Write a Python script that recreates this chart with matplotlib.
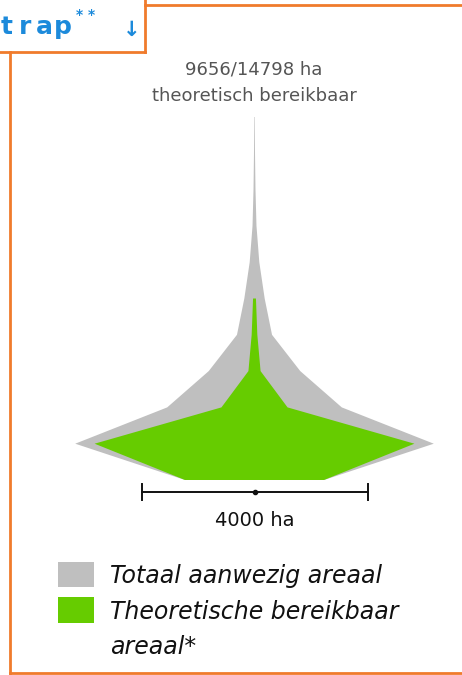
import matplotlib
matplotlib.use("Agg")
import matplotlib.pyplot as plt
from matplotlib.lines import Line2D
from matplotlib.patches import Rectangle, Polygon
import numpy as np

# Area per elevation level (ha), bottom level first
levels_total = [2460, 6346, 3090, 1620, 620, 360, 170, 70, 35, 18, 9]
levels_reachable = [2460, 5660, 1170, 215, 100, 51]

reachable_ha = 9656
total_ha = 14798
scale_ha = 4000

header_text = "trap"
title_lines = [f"{reachable_ha}/{total_ha} ha", "theoretisch bereikbaar"]
legend_labels = ["Totaal aanwezig areaal", "Theoretische bereikbaar\nareaal*"]

GRAY = "#BFBFBF"
GREEN = "#66CC00"
ORANGE = "#F07B2C"
BLUE = "#1C8ADB"

W, H = 462, 675
fig = plt.figure(figsize=(W / 100, H / 100), dpi=100)
fig.patch.set_facecolor("white")


def fx(px):
    return px / W


def fy(py):
    return 1 - py / H


# main axes: x in hectares, y in level index
ax = fig.add_axes([0, 0, 1, 1])
ax.set_axis_off()
px_per_ha = 226 / scale_ha
level_px = 36.3
cx, base_py = 254.5, 480
ax.set_xlim(-cx / px_per_ha, (W - cx) / px_per_ha)
ax.set_ylim(-(H - base_py) / level_px, base_py / level_px)


def profile(values):
    half = np.asarray(values, dtype=float) / 2
    ys = np.arange(len(values), dtype=float)
    left = np.column_stack([-half, ys])
    right = np.column_stack([half[::-1], ys[::-1]])
    return np.vstack([left, right])


ax.add_patch(Polygon(profile(levels_total), closed=True, facecolor=GRAY,
                     edgecolor="none"))
ax.add_patch(Polygon(profile(levels_reachable), closed=True, facecolor=GREEN,
                     edgecolor="none"))

# scale bar
bar_y = -12 / level_px
tick_h = 8 / level_px
ax.plot([-scale_ha / 2, scale_ha / 2], [bar_y, bar_y], color="#111111", lw=1.4)
for xe in (-scale_ha / 2, scale_ha / 2):
    ax.plot([xe, xe], [bar_y - tick_h, bar_y + tick_h], color="#111111", lw=1.4)
ax.plot([0], [bar_y], marker="o", ms=3, color="#111111")
ax.text(0, -41 / level_px, f"{scale_ha} ha", ha="center", va="center",
        fontsize=14, color="#111111")

# title above the profile
fig.text(fx(254), fy(70), title_lines[0], ha="center", va="center",
         fontsize=13, color="#555555")
fig.text(fx(254), fy(96), title_lines[1], ha="center", va="center",
         fontsize=13, color="#555555")

# legend
fig.add_artist(Rectangle((fx(58), fy(587)), 36 / W, 25 / H, transform=fig.transFigure,
                         facecolor=GRAY, edgecolor="none"))
fig.add_artist(Rectangle((fx(58), fy(623)), 36 / W, 26 / H, transform=fig.transFigure,
                         facecolor=GREEN, edgecolor="none"))
fig.text(fx(110), fy(576), legend_labels[0], ha="left", va="center",
         fontsize=17, style="italic", color="#111111")
fig.text(fx(110), fy(612), legend_labels[1].split("\n")[0], ha="left", va="center",
         fontsize=17, style="italic", color="#111111")
fig.text(fx(110), fy(647), legend_labels[1].split("\n")[1], ha="left", va="center",
         fontsize=17, style="italic", color="#111111")

# frame and header box
lw_frame = 2.0
fig.add_artist(Line2D([fx(145), fx(145)], [fy(0), fy(52)], transform=fig.transFigure,
                      color=ORANGE, lw=lw_frame))
fig.add_artist(Line2D([fx(0), fx(145)], [fy(52), fy(52)], transform=fig.transFigure,
                      color=ORANGE, lw=lw_frame))
fig.add_artist(Line2D([fx(145), fx(W)], [fy(5), fy(5)], transform=fig.transFigure,
                      color=ORANGE, lw=lw_frame))
fig.add_artist(Line2D([fx(10), fx(10)], [fy(52), fy(673)], transform=fig.transFigure,
                      color=ORANGE, lw=lw_frame))
fig.add_artist(Line2D([fx(10), fx(W)], [fy(673), fy(673)], transform=fig.transFigure,
                      color=ORANGE, lw=lw_frame))

# spaced-out header word, one letter at a time
for i, ch in enumerate(header_text):
    fig.text(fx(1 + 17.5 * i), fy(27), ch, ha="left", va="center",
             fontsize=18, fontweight="bold", color=BLUE, family="DejaVu Sans")
fig.text(fx(76), fy(15), "* *", ha="left", va="center",
         fontsize=10, fontweight="bold", color=BLUE)
fig.text(fx(132), fy(30), "\u2193", ha="center", va="center",
         fontsize=15, fontweight="bold", color=BLUE)

fig.savefig("out.png", dpi=100, facecolor="white")
